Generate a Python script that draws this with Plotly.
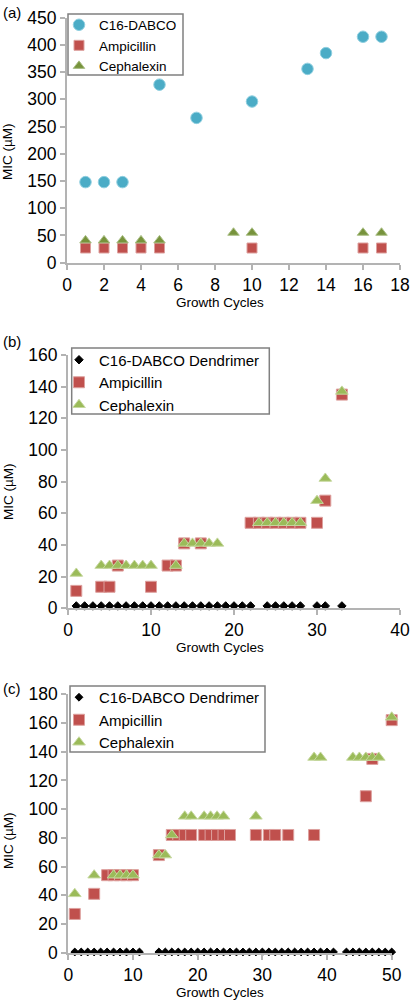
import plotly.graph_objects as go

W, H = 410, 1001

# ---------------- Data ----------------
# Panel (a)
a_dabco_x = [1, 2, 3, 5, 7, 10, 13, 14, 16, 17]
a_dabco_y = [148, 148, 148, 327, 266, 296, 356, 385, 415, 415]
a_amp_x = [1, 2, 3, 4, 5, 10, 16, 17]
a_amp_y = [27, 27, 27, 27, 27, 27, 27, 27]
a_ceph_x = [1, 2, 3, 4, 5, 9, 10, 16, 17]
a_ceph_y = [41, 41, 41, 41, 41, 55, 55, 55, 55]

# Panel (b)
b_dend_x = list(range(1, 23)) + [24, 25, 26, 27, 28, 30, 31, 33]
b_dend_y = [1.5] * 30
b_amp_x = [1, 4, 5, 6, 10, 12, 13, 14, 16, 22, 23, 24, 25, 26, 27, 28, 30, 31, 33]
b_amp_y = [11, 13.6, 13.6, 27, 13.6, 27, 27, 41, 41, 54, 54, 54, 54, 54, 54, 54, 54, 68, 135]
b_ceph_x = [1, 4, 5, 6, 7, 8, 9, 10, 13, 14, 15, 16, 17, 18, 23, 24, 25, 26, 27, 28, 30, 31, 33]
b_ceph_y = [22, 27, 27, 27, 27, 27, 27, 27, 27, 41, 41, 41, 41, 41,
            54, 54, 54, 54, 54, 54, 68, 82, 137]

# Panel (c)
c_dend_x = list(range(1, 12)) + list(range(14, 42)) + list(range(43, 51))
c_dend_y = [0.5] * 47
c_amp_x = [1, 4, 6, 7, 8, 9, 10, 14, 16, 17, 18, 19, 21, 22, 23, 24, 25,
           29, 31, 32, 34, 38, 46, 47, 50]
c_amp_y = [27, 41, 54, 54, 54, 54, 54, 68, 82, 82, 82, 82, 82, 82, 82, 82, 82,
           82, 82, 82, 82, 82, 109, 135, 162]
c_ceph_x = [1, 4, 7, 8, 9, 10, 14, 15, 16, 18, 19, 21, 22, 23, 24, 29,
            38, 39, 44, 45, 46, 47, 48, 50]
c_ceph_y = [41, 54, 54, 54, 54, 54, 68, 68, 82, 95, 95, 95, 95, 95, 95, 95,
            136, 136, 136, 136, 136, 136, 136, 164]

# ---------------- Styles ----------------
FONT = "Liberation Sans, Arial, Helvetica, sans-serif"
BLUE = "#4BACC6"
RED = "#C0504D"
OLIVE = "#77933C"
LGREEN = "#9BBB59"
AXIS = "#B3B3B3"


def px_x(p):
    return p / W


def px_y(p):
    return 1 - p / H


fig = go.Figure()


def add(x, y, name, xa, ya, leg, symbol, color, size, line_color):
    fig.add_trace(go.Scatter(
        x=x, y=y, name=name, mode="markers", xaxis=xa, yaxis=ya, legend=leg,
        cliponaxis=False,
        marker=dict(symbol=symbol, color=color, size=size,
                    line=dict(color=line_color, width=1)),
    ))


# (a)
add(a_dabco_x, a_dabco_y, "C16-DABCO", "x", "y", "legend", "circle", BLUE, 11.5, "#8FCFE0")
add(a_amp_x, a_amp_y, "Ampicillin", "x", "y", "legend", "square", RED, 10, "#DDA09E")
add(a_ceph_x, a_ceph_y, "Cephalexin", "x", "y", "legend", "triangle-up", OLIVE, 10, "#A9BE84")
# (b)
add(b_dend_x, b_dend_y, "C16-DABCO Dendrimer", "x2", "y2", "legend2", "diamond", "black", 6.5, "black")
add(b_amp_x, b_amp_y, "Ampicillin", "x2", "y2", "legend2", "square", RED, 11, "#DDA09E")
add(b_ceph_x, b_ceph_y, "Cephalexin", "x2", "y2", "legend2", "triangle-up", LGREEN, 11, "#C6D89F")
# (c)
add(c_dend_x, c_dend_y, "C16-DABCO Dendrimer", "x3", "y3", "legend3", "diamond", "black", 6, "black")
add(c_amp_x, c_amp_y, "Ampicillin", "x3", "y3", "legend3", "square", RED, 11, "#DDA09E")
add(c_ceph_x, c_ceph_y, "Cephalexin", "x3", "y3", "legend3", "triangle-up", LGREEN, 11, "#C6D89F")


def xaxis(dom, rng, dtick, anchor):
    return dict(domain=[px_x(dom[0]), px_x(dom[1])], range=rng, dtick=dtick, tick0=0,
                anchor=anchor, showgrid=False, zeroline=False, showline=True,
                linecolor=AXIS, linewidth=2, ticks="outside", ticklen=5,
                tickwidth=1.5, tickcolor=AXIS, ticklabelstandoff=0, automargin=False,
                tickfont=dict(family=FONT, size=17.5, color="black"), fixedrange=True)


def yaxis(dom, rng, dtick, anchor):
    return dict(domain=[px_y(dom[1]), px_y(dom[0])], range=rng, dtick=dtick, tick0=0,
                anchor=anchor, showgrid=False, zeroline=False, showline=True,
                linecolor=AXIS, linewidth=2, ticks="outside", ticklen=5,
                tickwidth=1.5, tickcolor=AXIS, automargin=False,
                tickfont=dict(family=FONT, size=17.5, color="black"), fixedrange=True)


def legend(x, top, size):
    return dict(x=px_x(x), y=px_y(top), xanchor="left", yanchor="top",
                bgcolor="rgba(0,0,0,0)", borderwidth=0,
                font=dict(family=FONT, size=size, color="black"),
                itemwidth=30, tracegroupgap=0)


fig.update_layout(
    width=W, height=H, margin=dict(l=0, r=0, t=0, b=0, autoexpand=False),
    paper_bgcolor="white", plot_bgcolor="white",
    font=dict(family=FONT, color="black"),
    xaxis=xaxis((67, 400), [0, 18], 2, "y"),
    yaxis=yaxis((17.7, 262.7), [0, 450], 50, "x"),
    xaxis2=xaxis((68, 400), [0, 40], 10, "y2"),
    yaxis2=yaxis((355, 608.3), [0, 160], 20, "x2"),
    xaxis3=xaxis((68.3, 391.7), [0, 50], 10, "y3"),
    yaxis3=yaxis((694.3, 952.7), [0, 180], 20, "x3"),
    legend=legend(59, 9.5, 13.5),
    legend2=legend(59, 343.5, 15),
    legend3=legend(59, 681, 15),
)

# legend frames
shapes = []
for (x0, x1, y0, y1) in [(68, 183, 14, 75), (71.7, 269.3, 348, 414), (70, 265, 686, 752)]:
    shapes.append(dict(type="rect", xref="paper", yref="paper", layer="below",
                       x0=px_x(x0), x1=px_x(x1), y0=px_y(y1), y1=px_y(y0),
                       line=dict(color="#808080", width=1.5), fillcolor="white"))
fig.update_layout(shapes=shapes)

ann = []
for lab, yc in [("(a)", 12), ("(b)", 341), ("(c)", 688)]:
    ann.append(dict(text=lab, x=px_x(1), y=px_y(yc), xref="paper", yref="paper",
                    xanchor="left", yanchor="middle", showarrow=False,
                    font=dict(family=FONT, size=15, color="black")))
for yc in [302.5, 647, 992]:
    ann.append(dict(text="Growth Cycles", x=px_x(220), y=px_y(yc), xref="paper", yref="paper",
                    xanchor="center", yanchor="middle", showarrow=False,
                    font=dict(family=FONT, size=13.5, color="black")))
for yc in [152, 492, 841]:
    ann.append(dict(text="MIC (µM)", x=px_x(8), y=px_y(yc), xref="paper", yref="paper",
                    xanchor="center", yanchor="middle", showarrow=False, textangle=-90,
                    font=dict(family=FONT, size=13.5, color="black")))
fig.update_layout(annotations=ann)

fig.write_html("out.html", config={"displayModeBar": False},
               post_script="document.body.style.margin='0px';document.body.style.overflow='hidden';")
